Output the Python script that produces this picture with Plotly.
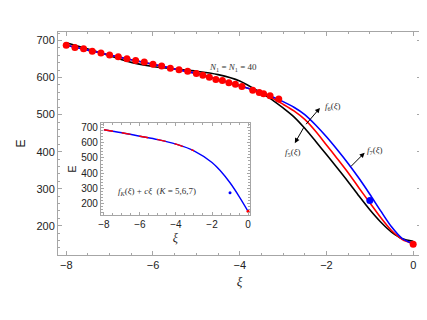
import plotly.graph_objects as go

# main curves f5, f6, f7
xi_curve = [-8, -7.5, -7, -6.5, -6, -5.5, -5, -4.5, -4, -3.5, -3.25, -3, -2.75, -2.5, -2.25, -2,
            -1.75, -1.5, -1.25, -1, -0.75, -0.5, -0.25, 0]
f5 = [694, 677, 659, 641, 630, 623, 617, 608, 591, 558, 540, 518, 494, 463, 428, 392,
      356, 319, 280, 243, 210, 183, 165, 158]
f6 = [688, 674, 661, 648, 636, 623, 611, 595, 578, 559, 545, 528, 510, 487, 455, 418,
      381, 343, 302, 262, 222, 187, 163, 152]
f7 = [687, 674, 661, 648, 636, 623, 611, 595, 578, 560, 548, 535, 520, 500, 472, 440,
      405, 368, 328, 285, 240, 197, 165, 151]

# red data points
xi_pts = [-8.0, -7.8, -7.6, -7.4, -7.2, -7.0, -6.8, -6.6, -6.4, -6.2, -6.0, -5.8, -5.6, -5.4,
          -5.2, -5.0, -4.85, -4.7, -4.55, -4.4, -4.25, -4.1, -3.95, -3.7, -3.55, -3.45, -3.3, -3.1, 0]
E_pts = [687, 681, 678, 671, 666, 661, 656, 651, 646, 642, 636, 631, 625, 621,
         617, 611, 606, 601, 595, 592, 586, 582, 576, 566, 560, 556, 551, 542, 150]
blue_pt_xi = [-1.0]
blue_pt_E = [268]

# inset curve f_K + c xi
inset_xi = [-8, -7, -6, -5, -4, -3, -2, -1.5, -1, -0.5, 0]
inset_E = [688, 668, 645, 622, 592, 548, 470, 410, 335, 245, 145]

serif = "Liberation Serif"
sans = "Liberation Sans"
frame = "#a6a6a6"

fig = go.Figure()
fig.add_trace(go.Scatter(x=xi_curve, y=f5, mode="lines",
                         line=dict(color="black", width=1.6, shape="spline", smoothing=0.8)))
fig.add_trace(go.Scatter(x=xi_curve, y=f6, mode="lines",
                         line=dict(color="red", width=1.6, shape="spline", smoothing=0.8)))
fig.add_trace(go.Scatter(x=xi_curve, y=f7, mode="lines",
                         line=dict(color="blue", width=1.6, shape="spline", smoothing=0.8)))
fig.add_trace(go.Scatter(x=xi_pts, y=E_pts, mode="markers", marker=dict(color="red", size=7)))
fig.add_trace(go.Scatter(x=blue_pt_xi, y=blue_pt_E, mode="markers", marker=dict(color="blue", size=7)))

# inset
fig.add_trace(go.Scatter(x=inset_xi, y=inset_E, mode="lines", xaxis="x2", yaxis="y2",
                         line=dict(color="blue", width=1.4, shape="spline")))
fig.add_trace(go.Scatter(x=inset_xi[:6], y=inset_E[:6], mode="lines", xaxis="x2", yaxis="y2",
                         line=dict(color="red", width=1.4, shape="spline", dash="dash")))
fig.add_trace(go.Scatter(x=blue_pt_xi, y=blue_pt_E, mode="markers", xaxis="x2", yaxis="y2",
                         marker=dict(color="blue", size=3)))
fig.add_trace(go.Scatter(x=[0], y=[inset_E[-1]], mode="markers", xaxis="x2", yaxis="y2",
                         marker=dict(color="red", size=3)))

axis_common = dict(showgrid=False, zeroline=False, showline=True, linecolor=frame, linewidth=1,
                   mirror="ticks", ticks="inside", ticklen=4, tickcolor=frame,
                   tickfont=dict(family=sans, size=11, color="#222"))

fig.update_layout(
    width=427, height=320,
    margin=dict(l=50, r=14, t=24, b=73),
    plot_bgcolor="white", paper_bgcolor="white",
    showlegend=False,
    xaxis=dict(axis_common, range=[-8.19, 0.18], tickvals=[-8, -6, -4, -2, 0],
               minor=dict(ticks="inside", ticklen=2, dtick=0.5, tickcolor=frame),
               title=dict(text="<i>ξ</i>", font=dict(family=serif, size=13, color="#222"), standoff=6)),
    yaxis=dict(axis_common, range=[121, 723], tickvals=[200, 300, 400, 500, 600, 700],
               minor=dict(ticks="inside", ticklen=2, dtick=20, tickcolor=frame),
               title=dict(text="E", font=dict(family=sans, size=12, color="#222"), standoff=8)),
    xaxis2=dict(axis_common, domain=[0.118, 0.529], anchor="y2", range=[-8.17, 0.11],
                tickvals=[-8, -6, -4, -2, 0], ticklen=3,
                tickfont=dict(family=sans, size=10, color="#222"),
                minor=dict(ticks="inside", ticklen=2, dtick=0.5, tickcolor=frame),
                title=dict(text="<i>ξ</i>", font=dict(family=serif, size=12, color="#222"), standoff=4)),
    yaxis2=dict(axis_common, domain=[0.179, 0.592], anchor="x2", range=[120, 733],
                tickvals=[200, 300, 400, 500, 600, 700], ticklen=3,
                tickfont=dict(family=sans, size=10, color="#222"),
                minor=dict(ticks="inside", ticklen=2, dtick=20, tickcolor=frame),
                title=dict(text="E", font=dict(family=sans, size=11, color="#222"), standoff=2)),
)

anno_font = dict(family=serif, size=9, color="#333")
arrows = [
    # (head x, head y, tail x, tail y)
    (-2.15, 518, -2.50, 470),
    (-2.73, 423, -2.50, 470),
    (-1.12, 397, -1.47, 356),
]
for hx, hy, tx, ty in arrows:
    fig.add_annotation(x=hx, y=hy, ax=tx, ay=ty, xref="x", yref="y", axref="x", ayref="y",
                       text="", showarrow=True, arrowhead=2, arrowsize=1, arrowwidth=1,
                       arrowcolor="black")

fig.add_annotation(x=-1.85, y=521, xref="x", yref="y", text="<i>f</i><sub>6</sub>(<i>ξ</i>)",
                   showarrow=False, font=anno_font)
fig.add_annotation(x=-2.77, y=399, xref="x", yref="y", text="<i>f</i><sub>5</sub>(<i>ξ</i>)",
                   showarrow=False, font=anno_font)
fig.add_annotation(x=-0.88, y=404, xref="x", yref="y", text="<i>f</i><sub>7</sub>(<i>ξ</i>)",
                   showarrow=False, font=anno_font)
fig.add_annotation(x=-4.15, y=626, xref="x", yref="y",
                   text="<i>N</i><sub>1</sub> = <i>N</i><sub>1</sub> = 40",
                   showarrow=False, font=anno_font)
fig.add_annotation(x=-5.06, y=280, xref="x2", yref="y2",
                   text="<i>f<sub>K</sub></i>(<i>ξ</i>) + <i>cξ</i>  (<i>K</i> = 5,6,7)",
                   showarrow=False, font=anno_font)

fig.write_html("out.html")
